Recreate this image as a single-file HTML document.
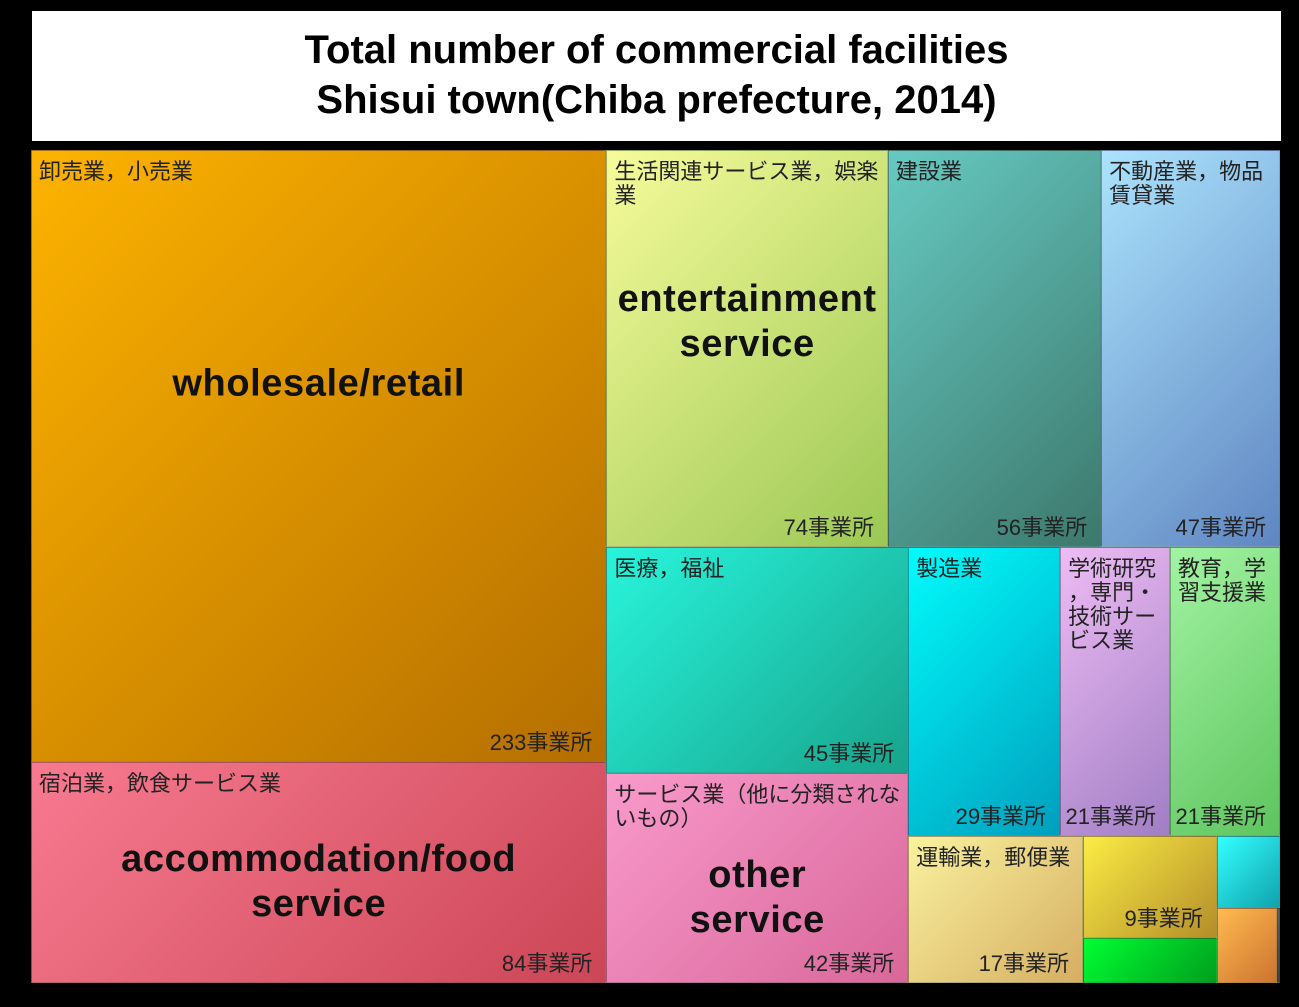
<!DOCTYPE html>
<html><head><meta charset="utf-8">
<style>
html,body{margin:0;padding:0;background:#000;width:1299px;height:1007px;overflow:hidden;}
#title{position:absolute;left:32px;top:11px;width:1249px;height:130px;background:#fff;text-align:center;font-family:"Liberation Sans","Noto Sans CJK JP",sans-serif;font-weight:bold;font-size:40px;line-height:50px;color:#000;box-sizing:border-box;padding-top:14px;}
#map{position:absolute;left:31px;top:150px;width:1249px;height:833px;}
.cell{position:absolute;box-sizing:border-box;border:1px solid rgba(60,60,60,0.35);overflow:hidden;font-family:"Liberation Sans","Noto Sans CJK JP",sans-serif;color:#222;}
.jp{position:absolute;left:7px;right:1px;top:9px;font-size:22px;line-height:24px;word-break:break-all;line-break:anywhere;}
.cnt{position:absolute;right:13px;bottom:6px;font-size:22px;line-height:24px;white-space:nowrap;}
.en{position:absolute;left:-20px;right:-20px;text-align:center;font-weight:bold;font-size:38px;line-height:45px;letter-spacing:0.6px;color:#111;transform:translateY(-50%);}
</style></head><body>
<div id="title">Total number of commercial facilities<br>Shisui town(Chiba prefecture, 2014)</div>
<div id="map"></div>
<script>
const labels = ["卸売業，小売業","宿泊業，飲食サービス業","生活関連サービス業，娯楽業","建設業","不動産業，物品賃貸業","医療，福祉","サービス業（他に分類されないもの）","製造業","学術研究，専門・技術サービス業","教育，学習支援業","運輸業，郵便業","","","","",""];
const values = [233,84,74,56,47,45,42,29,21,21,17,9,4,3,3,0.15];
const englishLabels = ["wholesale/retail","accommodation/food<br>service","entertainment<br>service","","","","other<br>service","","","","","","","","",""];
const showCount = [1,1,1,1,1,1,1,1,1,1,1,1,0,0,0,0];
const colorsA = ["#fdb300","#f87a90","#f6fb9a","#66cac2","#abe3fc","#28f5dc","#f99acb","#00fcfc","#eebcf4","#a2f4a2","#f9f29e","#fbec44","#00ff33","#33ffff","#ffba50","#606060"];
const colorsB = ["#b46e00","#cb4656","#9cc855","#3d786c","#5f86c2","#17a48c","#d9679a","#009fbe","#a07ec4","#5ec45e","#d6ae62","#b48e2a","#009e1e","#10a2ac","#cc7430","#404040"];
const enY = [0.38,0.54,0.43,0,0,0,0.59,0,0,0,0,0,0,0,0,0];
const tree = {d:'h',c:[
  {d:'v',c:[0,1]},
  {d:'v',c:[
    {d:'h',c:[2,3,4]},
    {d:'h',c:[
      {d:'v',c:[5,6]},
      {d:'v',c:[
        {d:'h',c:[7,8,9]},
        {d:'h',c:[10,{d:'h',c:[{d:'v',c:[11,12]},{d:'v',c:[13,{d:'h',c:[14,15]}]}]}]}
      ]}
    ]}
  ]}
]};
function sum(n){return typeof n==='number'?values[n]:n.c.reduce((a,b)=>a+sum(b),0);}
const map=document.getElementById('map');
function lay(n,x,y,w,h){
  if(typeof n==='number'){draw(n,x,y,w,h);return;}
  const t=sum(n);let off=0;
  n.c.forEach(ch=>{const f=sum(ch)/t;
    if(n.d==='h'){lay(ch,x+off,y,w*f,h);off+=w*f;}
    else{lay(ch,x,y+off,w,h*f);off+=h*f;}});
}
function draw(i,x,y,w,h){
  const d=document.createElement('div');
  d.className='cell';
  
  
  d.style.left=x+'px';d.style.top=y+'px';d.style.width=w+'px';d.style.height=h+'px';
  d.style.background='linear-gradient(135deg,'+colorsA[i]+','+colorsB[i]+')';
  if(labels[i]){const l=document.createElement('div');l.className='jp';
    
    
    l.textContent=labels[i];d.appendChild(l);}
  if(showCount[i]){const c=document.createElement('div');c.className='cnt';
    
    
    c.textContent=values[i]+'事業所';d.appendChild(c);}
  if(englishLabels[i]){const e=document.createElement('div');e.className='en';
    
    
    e.style.top=(enY[i]*h)+'px';e.innerHTML=englishLabels[i];d.appendChild(e);}
  map.appendChild(d);
}
lay(tree,0,0,1249,833);
</script>
</body></html>
